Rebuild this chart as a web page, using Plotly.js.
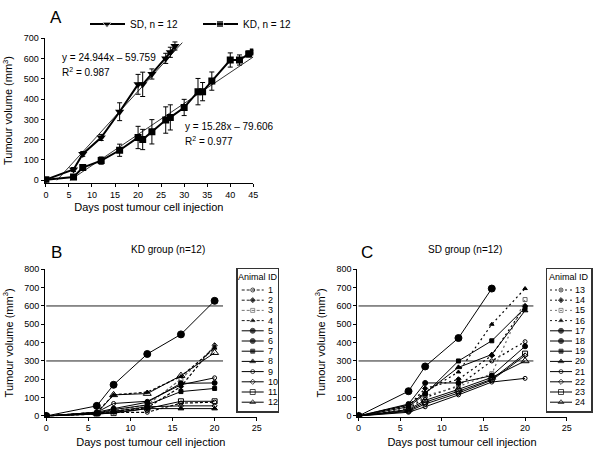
<!DOCTYPE html>
<html><head><meta charset="utf-8">
<script src="https://cdn.plot.ly/plotly-3.0.1.min.js"></script>
<style>html,body{margin:0;padding:0;background:#fff}#chart{width:600px;height:452px}</style>
</head><body><div id="chart"></div>
<script>
// ---------- Panel A data ----------
const sdDays   = [0, 6, 8, 12, 16, 20, 21, 23, 26, 27, 28];
const sdVolume = [3, 53, 130, 211, 338, 473, 473, 524, 601, 631, 662];
const sdError  = [0, 10, 12, 15, 44, 49, 60, 25, 25, 25, 20];
const kdDays   = [0, 6, 8, 12, 16, 20, 21, 23, 26, 27, 30, 33, 34, 36, 40, 42, 44, 45];
const kdVolume = [3, 16, 63, 97, 148, 211, 201, 239, 297, 310, 359, 437, 437, 489, 593, 593, 623, 632];
const kdError  = [0, 8, 10, 18, 30, 55, 50, 60, 65, 62, 40, 65, 45, 45, 35, 25, 15, 10];
const groupNames = ['SD, n = 12', 'KD, n = 12'];
const trendSlope = [24.944, 15.28];
const trendIntercept = [-59.759, -79.606];
const trendEnd = [29.6, 45];
const trendR2 = [0.987, 0.977];

// ---------- Panels B and C data ----------
const measureDays = [0, 6, 8, 12, 16, 20];
const kdAnimalIds = ['1','2','3','4','5','6','7','8','9','10','11','12'];
const kdAnimal1  = [0, 10, 20, 20, 70, 75];
const kdAnimal2  = [0, 15, 25, 45, 160, 385];
const kdAnimal3  = [0, 12, 30, 60, 200, 378];
const kdAnimal4  = [0, 20, 115, 130, 215, 370];
const kdAnimal5  = [0, 55, 170, 338, 445, 628];
const kdAnimal6  = [0, 20, 40, 75, 178, 180];
const kdAnimal7  = [0, 15, 35, 60, 133, 150];
const kdAnimal8  = [0, 10, 20, 40, 40, 40];
const kdAnimal9  = [0, 20, 68, 80, 170, 208];
const kdAnimal10 = [0, 15, 25, 50, 55, 55];
const kdAnimal11 = [0, 10, 15, 40, 80, 80];
const kdAnimal12 = [0, 15, 115, 122, 220, 345];
const sdAnimalIds = ['13','14','15','16','17','18','19','20','21','22','23','24'];
const sdAnimal13 = [0, 40, 100, 165, 300, 405];
const sdAnimal14 = [0, 55, 150, 200, 330, 600];
const sdAnimal15 = [0, 45, 110, 160, 230, 635];
const sdAnimal16 = [0, 60, 130, 240, 500, 695];
const sdAnimal17 = [0, 135, 270, 425, 695, null];
const sdAnimal18 = [0, 65, 180, 180, 220, 380];
const sdAnimal19 = [0, 50, 120, 300, 410, 590];
const sdAnimal20 = [0, 60, 125, 265, 335, 575];
const sdAnimal21 = [0, 20, 50, 115, 185, 205];
const sdAnimal22 = [0, 25, 65, 125, 195, 330];
const sdAnimal23 = [0, 30, 75, 135, 200, 340];
const sdAnimal24 = [0, 35, 85, 145, 210, 300];
const thresholds = [300, 600];
const thresholdEnd = 21;

const kdAnimals = [kdAnimal1,kdAnimal2,kdAnimal3,kdAnimal4,kdAnimal5,kdAnimal6,kdAnimal7,kdAnimal8,kdAnimal9,kdAnimal10,kdAnimal11,kdAnimal12];
const sdAnimals = [sdAnimal13,sdAnimal14,sdAnimal15,sdAnimal16,sdAnimal17,sdAnimal18,sdAnimal19,sdAnimal20,sdAnimal21,sdAnimal22,sdAnimal23,sdAnimal24];

// ---------- styles ----------
const FONT = 'Arial, "Liberation Sans", Helvetica, sans-serif';
const dashB = '3px,2px', dashC = '2px,3px';
const groupStyles = [{symbol: 'triangle-down', size: 8}, {symbol: 'square', size: 7}];
const animalStyles = [
  {dash: null, symbol: 'circle-open', size: 4, color: '#000'},
  {dash: null, symbol: 'diamond', size: 4, color: '#000'},
  {dash: null, symbol: 'square-open', size: 4, color: '#666'},
  {dash: null, symbol: 'triangle-up', size: 4, color: '#000'},
  {dash: 'solid', symbol: 'circle', size: 7, color: '#000'},
  {dash: 'solid', symbol: 'circle', size: 5, color: '#000'},
  {dash: 'solid', symbol: 'square', size: 4, color: '#000'},
  {dash: 'solid', symbol: 'triangle-up', size: 5, color: '#000'},
  {dash: 'solid', symbol: 'circle-open', size: 4, color: '#000'},
  {dash: 'solid', symbol: 'diamond-open', size: 4, color: '#000'},
  {dash: 'solid', symbol: 'square-open', size: 5, color: '#000'},
  {dash: 'solid', symbol: 'triangle-up-open', size: 7, color: '#000'}
];

const traces = [];

// Panel A
const groupData = [[sdDays, sdVolume, sdError], [kdDays, kdVolume, kdError]];
groupData.forEach((g, i) => {
  traces.push({x: g[0], y: g[1], name: groupNames[i], type: 'scatter', mode: 'lines+markers',
    xaxis: 'x', yaxis: 'y', showlegend: false,
    line: {color: '#000', width: 2}, marker: {symbol: groupStyles[i].symbol, size: groupStyles[i].size, color: '#000'},
    error_y: {type: 'data', array: g[2], visible: true, color: '#000', thickness: 1, width: 2.5}});
});
for (let i = 0; i < 2; i++) {
  const x0 = -trendIntercept[i] / trendSlope[i];
  const xs = [x0, trendEnd[i]];
  traces.push({x: xs, y: xs.map(v => trendSlope[i] * v + trendIntercept[i]), type: 'scatter', mode: 'lines',
    name: 'trend ' + groupNames[i],
    xaxis: 'x', yaxis: 'y', showlegend: false, hoverinfo: 'skip', line: {color: '#000', width: 0.8}});
}
// Panel A key (top strip, axis x6/y6 in page pixels)
const keyAStart = [90, 203];
groupNames.forEach((n, i) => {
  const x0 = keyAStart[i];
  traces.push({x: [x0, x0 + 17, x0 + 35], y: [24, 24, 24], type: 'scatter', mode: 'lines+markers',
    name: 'key ' + n, xaxis: 'x6', yaxis: 'y6', showlegend: false, hoverinfo: 'skip',
    line: {color: '#000', width: 2}, marker: {symbol: groupStyles[i].symbol, size: [0, groupStyles[i].size, 0], color: '#000'}});
});

function addPanel(animals, ids, xa, ya, lxa, lya, dashStyle, lx) {
  thresholds.forEach(t => traces.push({x: [0, thresholdEnd], y: [t, t], type: 'scatter', mode: 'lines',
    name: 'threshold ' + t, xaxis: xa, yaxis: ya, showlegend: false, line: {color: '#222', width: 1}}));
  animals.forEach((vals, i) => {
    const s = animalStyles[i];
    const dash = s.dash || dashStyle;
    const lw = s.dash ? 1 : 1.2;
    traces.push({x: measureDays, y: vals, type: 'scatter', mode: 'lines+markers', name: ids[i],
      xaxis: xa, yaxis: ya, showlegend: false, connectgaps: false,
      line: {color: s.color, width: lw, dash: dash},
      marker: {symbol: s.symbol, size: s.size, color: s.color, line: {color: s.color, width: 1}}});
    // custom legend sample
    const yy = 21 + i * 10.2;
    traces.push({x: [lx[0], (lx[0] + lx[1]) / 2, lx[1]], y: [yy, yy, yy], type: 'scatter', mode: 'lines+markers',
      name: 'key ' + ids[i], xaxis: lxa, yaxis: lya, showlegend: false, hoverinfo: 'skip',
      line: {color: s.color, width: s.dash ? 1 : 0.9, dash: dash},
      marker: {symbol: s.symbol, size: [0, Math.min(s.size, 5), 0], color: s.color, line: {color: s.color, width: 1}}});
  });
}
addPanel(kdAnimals, kdAnimalIds, 'x2', 'y2', 'x4', 'y4', dashB, [4, 26]);
addPanel(sdAnimals, sdAnimalIds, 'x3', 'y3', 'x5', 'y5', dashC, [3, 25]);

const W = 600, H = 452;
const dx = (a, b) => [a / W, b / W];
const dy = (top, bottom) => [1 - bottom / H, 1 - top / H];

const tickFont = {family: FONT, size: 9, color: '#000'};
const titleFont = {family: FONT, size: 11, color: '#000'};
const baseAxis = {showgrid: false, zeroline: false, showline: true, linecolor: '#000', linewidth: 1,
  ticks: 'outside', ticklen: 3, tickcolor: '#000', tickfont: tickFont, fixedrange: true};

const legendAxis = (dom) => ({domain: dom, showgrid: false, zeroline: false, showline: true, mirror: true,
  linecolor: '#333', linewidth: 1.5, showticklabels: false, ticks: '', fixedrange: true});
const hiddenAxis = (dom) => ({domain: dom, visible: false, showgrid: false, zeroline: false, fixedrange: true});

const annotations = [];
function ann(text, x, y, opts) {
  annotations.push(Object.assign({text: text, x: x / W, y: 1 - y / H, xref: 'paper', yref: 'paper',
    showarrow: false, font: {family: FONT, size: 10, color: '#000'}, xanchor: 'left', yanchor: 'middle'}, opts || {}));
}
ann('A', 56, 17, {xanchor: 'center', font: {family: FONT, size: 17, color: '#000'}});
ann('B', 56, 252, {xanchor: 'center', font: {family: FONT, size: 17, color: '#000'}});
ann('C', 367, 252, {xanchor: 'center', font: {family: FONT, size: 17, color: '#000'}});
ann('y = ' + trendSlope[0] + 'x – ' + (-trendIntercept[0]), 60, 58);
ann('R<sup>2</sup> = ' + trendR2[0], 60, 72);
ann('y = ' + trendSlope[1] + 'x – ' + (-trendIntercept[1]), 183, 127);
ann('R<sup>2</sup> = ' + trendR2[1], 183, 141);
ann('KD group (n=12)', 168, 249, {xanchor: 'center'});
ann('SD group (n=12)', 465, 249, {xanchor: 'center'});
groupNames.forEach((n, i) => annotations.push({text: n, x: keyAStart[i] + 38, y: 24, xref: 'x6', yref: 'y6',
  showarrow: false, font: {family: FONT, size: 10, color: '#000'}, xanchor: 'left', yanchor: 'middle'}));
// legend text
function legendText(ids, xa, ya, tx, cx) {
  annotations.push({text: 'Animal ID', x: cx, y: 8, xref: xa, yref: ya, showarrow: false,
    font: {family: FONT, size: 9, color: '#000'}, xanchor: 'center', yanchor: 'middle'});
  ids.forEach((id, i) => annotations.push({text: id, x: tx, y: 21 + i * 10.2, xref: xa, yref: ya, showarrow: false,
    font: {family: FONT, size: 9, color: '#000'}, xanchor: 'left', yanchor: 'middle'}));
}
legendText(kdAnimalIds, 'x4', 'y4', 28, 20);
legendText(sdAnimalIds, 'x5', 'y5', 26, 22);

const layout = {
  width: W, height: H, margin: {l: 0, r: 0, t: 0, b: 0}, paper_bgcolor: '#fff', plot_bgcolor: 'rgba(0,0,0,0)',
  font: {family: FONT, color: '#000'},
  showlegend: false,
  xaxis: Object.assign({}, baseAxis, {domain: dx(44.5, 253.3), range: [-0.3, 45], dtick: 5, tick0: 0,
    title: {text: 'Days post tumour cell injection', font: titleFont, standoff: 4}}),
  yaxis: Object.assign({}, baseAxis, {domain: dy(38.3, 182.7), range: [-12, 700], dtick: 100,
    title: {text: 'Tumour volume (mm<sup>3</sup>)', font: titleFont, standoff: 8}}),
  xaxis2: Object.assign({}, baseAxis, {domain: dx(45, 256.7), range: [-0.15, 25], dtick: 5, tick0: 0, anchor: 'y2',
    title: {text: 'Days post tumour cell injection', font: titleFont, standoff: 6}}),
  yaxis2: Object.assign({}, baseAxis, {domain: dy(269.3, 416.5), range: [-3, 800], dtick: 100, anchor: 'x2',
    title: {text: 'Tumour volume (mm<sup>3</sup>)', font: titleFont, standoff: 8}}),
  xaxis3: Object.assign({}, baseAxis, {domain: dx(357.3, 566.7), range: [-0.15, 25], dtick: 5, tick0: 0, anchor: 'y3',
    title: {text: 'Days post tumour cell injection', font: titleFont, standoff: 6}}),
  yaxis3: Object.assign({}, baseAxis, {domain: dy(269.3, 416.5), range: [-3, 800], dtick: 100, anchor: 'x3',
    title: {text: 'Tumour volume (mm<sup>3</sup>)', font: titleFont, standoff: 8}}),
  xaxis4: Object.assign(legendAxis(dx(237.7, 277.7)), {range: [0, 40], anchor: 'y4'}),
  yaxis4: Object.assign(legendAxis(dy(269, 411)), {range: [142, 0], anchor: 'x4'}),
  xaxis5: Object.assign(legendAxis(dx(547, 591)), {range: [0, 44], anchor: 'y5'}),
  yaxis5: Object.assign(legendAxis(dy(269, 411)), {range: [142, 0], anchor: 'x5'}),
  xaxis6: Object.assign(hiddenAxis([0, 1]), {range: [0, W], anchor: 'y6'}),
  yaxis6: Object.assign(hiddenAxis(dy(0, 36)), {range: [36, 0], anchor: 'x6'}),
  annotations: annotations
};

Plotly.newPlot('chart', traces, layout, {staticPlot: true, displayModeBar: false});
</script></body></html>
